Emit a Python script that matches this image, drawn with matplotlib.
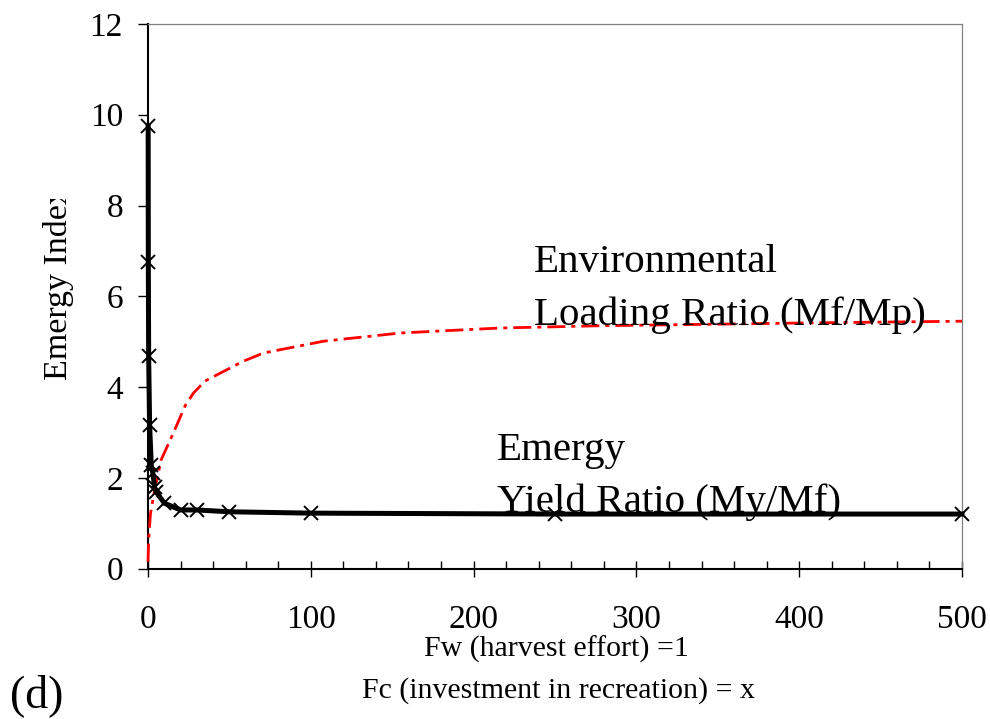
import matplotlib
matplotlib.use("Agg")
import matplotlib.pyplot as plt
from matplotlib.ticker import MultipleLocator
from matplotlib.transforms import Bbox, TransformedBbox

plt.rcParams['font.family'] = ['Liberation Serif', 'DejaVu Serif']
plt.rcParams['lines.scale_dashes'] = False

# Emergy Yield Ratio (My/Mf)
eyr_x = [0.1, 0.2, 0.4, 1, 2, 3, 4, 5, 10, 20, 30, 50, 100, 250, 500]
eyr_y = [9.75, 6.75, 4.68, 3.16, 2.28, 2.10, 1.80, 1.69, 1.44, 1.29, 1.29, 1.25, 1.22, 1.20, 1.20]

# Environmental Loading Ratio (Mf/Mp)
elr_x = [0, 0.5, 1.5, 4, 8, 15, 23, 28, 35, 58, 71, 108, 155, 216, 278, 340, 400, 500]
elr_y = [0.15, 0.7, 1.2, 1.72, 2.39, 2.94, 3.6, 3.87, 4.13, 4.56, 4.75, 5.01, 5.19, 5.3, 5.35, 5.38, 5.41, 5.45]

x_ticks = [0, 100, 200, 300, 400, 500]
y_ticks = [0, 2, 4, 6, 8, 10, 12]

W, H = 990, 719
fig = plt.figure(figsize=(W / 100, H / 100), dpi=100)
ax = fig.add_axes([148 / W, 1 - 568.5 / H, (962 - 148) / W, (568.5 - 24) / H])

ax.plot(elr_x, elr_y, color='#ff0000', lw=2.0,
        linestyle=(0, (13, 4.3, 2.9, 4.3)), zorder=3, clip_on=False)
ax.plot(eyr_x, eyr_y, color='black', lw=3.6, zorder=4, clip_on=False)
ax.plot(eyr_x, eyr_y, linestyle='none', marker='x', ms=10, mew=1.4,
        color='black', zorder=5, clip_on=False)

ax.set_xlim(0, 500)
ax.set_ylim(0, 12)
ax.set_xticks(x_ticks)
ax.set_yticks(y_ticks)
ax.xaxis.set_minor_locator(MultipleLocator(20))

ax.tick_params(axis='x', which='major', direction='inout', length=12, width=1,
               labelsize=24, pad=20)
ax.tick_params(axis='x', which='minor', direction='in', length=6, width=1)
ax.tick_params(axis='y', which='major', direction='out', length=7, width=1,
               labelsize=24, pad=11)

for s in ['left', 'bottom']:
    ax.spines[s].set_color('black')
    ax.spines[s].set_linewidth(1.5)
for s in ['top', 'right']:
    ax.spines[s].set_color('#808080')
    ax.spines[s].set_linewidth(0.9)

tfs = 29.5
ax.text(236.8, 6.53, 'Environmental', fontsize=tfs, va='baseline', ha='left', zorder=6)
ax.text(236.8, 5.37, 'Loading Ratio (Mf/Mp)', fontsize=tfs, va='baseline', ha='left', zorder=6)
ax.text(214.4, 2.39, 'Emergy', fontsize=tfs, va='baseline', ha='left', zorder=6)
ax.text(214.4, 1.25, 'Yield Ratio (My/Mf)', fontsize=tfs, va='baseline', ha='left', zorder=6)

fig.text(556 / W, 1 - 649 / H, 'Fw (harvest effort) =1', fontsize=21.5,
         ha='center', va='center')
fig.text(559 / W, 1 - 691 / H, 'Fc (investment in recreation) = x', fontsize=21.5,
         ha='center', va='center')
fig.text(10 / W, 1 - 696 / H, '(d)', fontsize=33, ha='left', va='center')

yl = fig.text(58 / W, 1 - 380 / H, 'Emergy Index', fontsize=24.5, rotation=90,
              ha='center', va='bottom')
yl.set_clip_box(TransformedBbox(Bbox([[0, 0], [1, 1 - 199 / H]]), fig.transFigure))
yl.set_clip_on(True)

fig.savefig('out.png', dpi=100)
